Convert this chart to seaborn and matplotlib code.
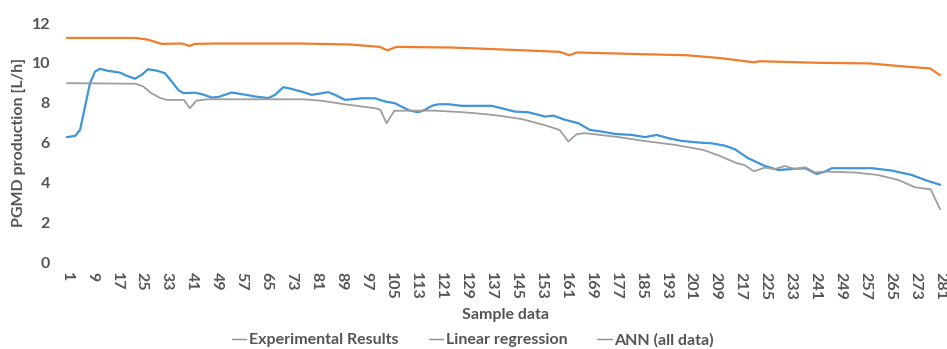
import numpy as np
import pandas as pd
import matplotlib
matplotlib.use("Agg")
import matplotlib.pyplot as plt
from matplotlib.lines import Line2D
import seaborn as sns

# ---- data ----
series_names = ["Experimental Results", "Linear regression", "ANN (all data)"]

exp_x = [1, 3.6, 5.2, 6.8, 8.4, 10, 11.6, 14, 18, 20, 22.8, 25, 27, 30, 32.4, 34.6, 36.7, 38.3,
         42, 44.2, 47.4, 49.5, 53.8, 57, 61.3, 65.6, 67.7, 70.4, 73, 76.8, 79.5, 84.8, 87, 90.2,
         95.5, 99.8, 103, 106.2, 108.3, 111, 113.7, 115.8, 118, 120.1, 123.3, 127.6, 137.2, 140.4,
         144.7, 148.9, 152.2, 154.3, 157, 160.7, 165, 168.7, 172.5, 176.8, 182.1, 186.4, 190.1,
         193.8, 198.1, 203.5, 207.8, 212, 215.2, 219.5, 224.8, 229.1, 237.7, 241.4, 244.1, 246.3,
         259.1, 265.5, 271.9, 276.7, 281]
exp_y = [6.27, 6.33, 6.63, 7.8, 8.98, 9.56, 9.7, 9.6, 9.51, 9.36, 9.2, 9.4, 9.68, 9.6, 9.48, 9.06,
         8.64, 8.48, 8.5, 8.43, 8.26, 8.28, 8.51, 8.43, 8.31, 8.23, 8.39, 8.78, 8.69, 8.53, 8.39,
         8.53, 8.39, 8.14, 8.22, 8.22, 8.06, 7.97, 7.8, 7.6, 7.52, 7.64, 7.84, 7.92, 7.92, 7.84,
         7.84, 7.72, 7.55, 7.52, 7.39, 7.3, 7.35, 7.14, 6.97, 6.63, 6.55, 6.43, 6.38, 6.27, 6.38,
         6.22, 6.08, 6.0, 5.96, 5.84, 5.66, 5.21, 4.82, 4.62, 4.71, 4.42, 4.54, 4.71, 4.71, 4.59,
         4.37, 4.09, 3.88]

lin_x = [1, 23, 27, 31.4, 37.8, 40.4, 42, 48.5, 61.3, 75.7, 91.8, 101.4, 103.7, 106.7, 123.8,
         144.1, 159.1, 162.1, 164.5, 181.6, 199.8, 210.4, 221.1, 223.3, 242.5, 258.5, 269.2,
         277.8, 281]
lin_y = [11.25, 11.25, 11.16, 10.95, 10.97, 10.85, 10.95, 10.97, 10.97, 10.97, 10.92, 10.8, 10.63,
         10.8, 10.77, 10.65, 10.55, 10.38, 10.52, 10.45, 10.38, 10.24, 10.03, 10.08, 10.0, 9.97,
         9.82, 9.72, 9.38]

ann_x = [1, 23, 25.5, 28, 31, 33, 38.5, 40.4, 42.5, 46, 60, 77, 83, 90, 100, 101.5, 103.5, 106,
         111, 119, 128, 134, 140, 147, 154, 159, 161.8, 164.5, 167, 178, 186, 196, 205, 210,
         215.5, 218.4, 221.3, 224.8, 228, 231.2, 234.4, 237.7, 241, 244, 254, 261, 267.6, 273,
         278, 281]
ann_y = [8.98, 8.95, 8.81, 8.48, 8.23, 8.14, 8.14, 7.72, 8.1, 8.17, 8.17, 8.17, 8.09, 7.92, 7.72,
         7.64, 6.97, 7.59, 7.6, 7.6, 7.52, 7.44, 7.34, 7.17, 6.88, 6.63, 6.05, 6.42, 6.47, 6.27,
         6.08, 5.88, 5.63, 5.35, 4.98, 4.86, 4.55, 4.74, 4.66, 4.82, 4.67, 4.76, 4.49, 4.54, 4.49,
         4.37, 4.12, 3.75, 3.65, 2.65]

x_ticks = list(range(1, 282, 8))
y_ticks = [0, 2, 4, 6, 8, 10, 12]

colors = {"Experimental Results": "#3f95d8",
          "Linear regression": "#f07d2e",
          "ANN (all data)": "#9e9e9e"}
widths = {"Experimental Results": 1.6, "Linear regression": 1.6, "ANN (all data)": 1.3}

df = pd.concat([
    pd.DataFrame({"sample": exp_x, "value": exp_y, "series": series_names[0]}),
    pd.DataFrame({"sample": lin_x, "value": lin_y, "series": series_names[1]}),
    pd.DataFrame({"sample": ann_x, "value": ann_y, "series": series_names[2]}),
])

sns.set_theme(style="white")
plt.rcParams["font.family"] = ["Lato", "DejaVu Sans"]
TXT = "#555555"
FW = "bold"

fig = plt.figure(figsize=(9.47, 3.49), dpi=100)
ax = fig.add_axes([65.4 / 947, 87 / 349, 876.2 / 947, 239 / 349])

for name in series_names:
    sub = df[df["series"] == name]
    sns.lineplot(data=sub, x="sample", y="value", ax=ax, color=colors[name],
                 linewidth=widths[name], legend=False, estimator=None, sort=False)

ax.set_xlim(0.5, 281.5)
ax.set_ylim(0, 12)
ax.set_xticks(x_ticks)
ax.set_xticklabels([str(t) for t in x_ticks], rotation=270, fontsize=11.5, color=TXT,
                   fontweight=FW)
ax.set_yticks(y_ticks)
ax.set_yticklabels([str(t) for t in y_ticks], fontsize=11.5, color=TXT, fontweight=FW)
ax.tick_params(axis="x", length=0, pad=7)
ax.tick_params(axis="y", length=0, pad=11)
for s in ax.spines.values():
    s.set_visible(False)
ax.grid(False)

ax.set_xlabel("Sample data", fontsize=11.5, color=TXT, fontweight=FW)
ax.set_ylabel("PGMD production [L/h]", fontsize=11.5, color=TXT, fontweight=FW)
ax.xaxis.set_label_coords((505 - 65.4) / 876.2, -(315 - 262) / 239)
ax.yaxis.set_label_coords(-(65.4 - 19) / 876.2, 0.5)
ax.xaxis.label.set_va("center")
ax.yaxis.label.set_va("center")

handles = [Line2D([0], [0], color="#8c8c8c", linewidth=1.0) for _ in series_names]
leg = fig.legend(handles, series_names, loc="center", bbox_to_anchor=(473 / 947, 1 - 340 / 349),
                 ncol=3, frameon=False, handlelength=0.9, handletextpad=0.15,
                 columnspacing=1.9, labelcolor=TXT, prop={"weight": FW, "size": 11.5},
                 borderpad=0, borderaxespad=0)

fig.savefig("out.png", dpi=100)
